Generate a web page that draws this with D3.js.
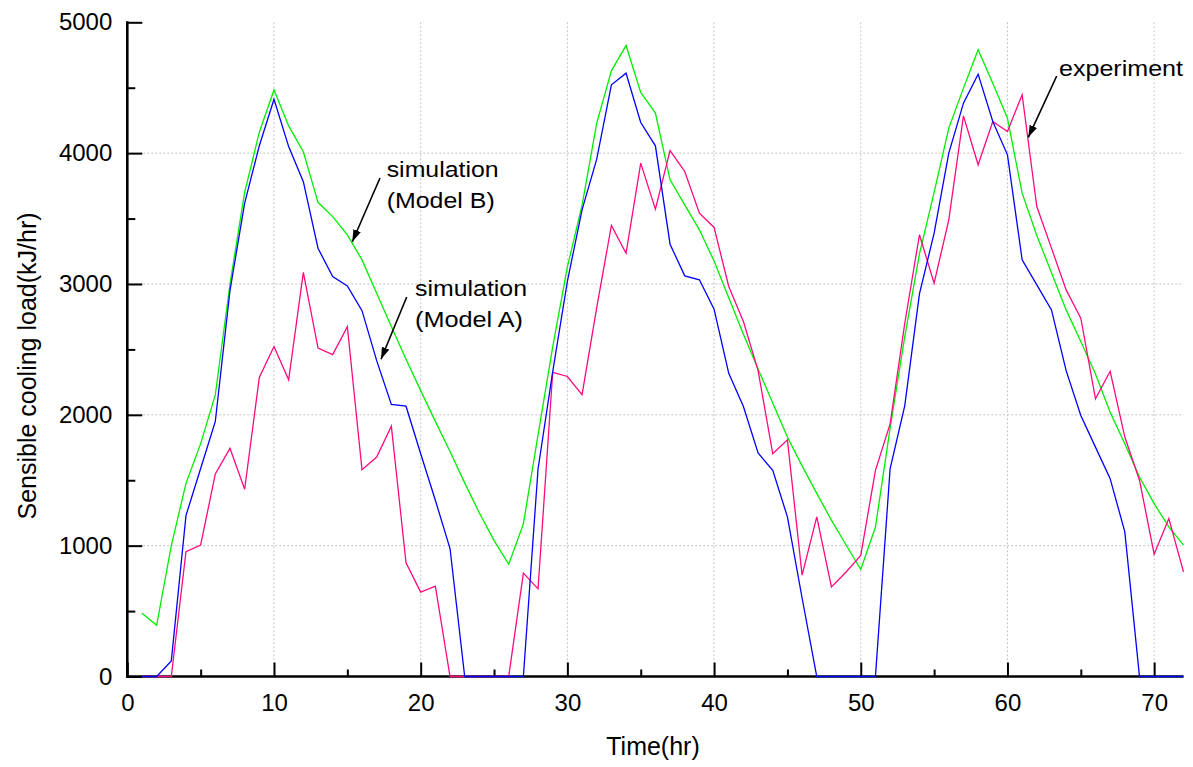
<!DOCTYPE html>
<html>
<head>
<meta charset="utf-8">
<script src="https://cdn.jsdelivr.net/npm/d3@7"></script>
<style>
  html, body { margin: 0; padding: 0; background: #fff; }
  svg { display: block; font-family: "Liberation Sans", Arial, sans-serif; }
</style>
</head>
<body>
<svg id="chart" width="1193" height="767"></svg>
<script>
// ---- data ----
const hours = d3.range(1, 73);
const modelB = [483, 391, 1000, 1476, 1780, 2152, 3000, 3700, 4160, 4483,
  4208, 4011, 3624, 3515, 3375, 3184, 2930, 2675, 2425, 2185,
  1950, 1720, 1480, 1250, 1040, 858, 1166, 1846, 2520, 3130,
  3600, 4229, 4629, 4823, 4464, 4306, 3796, 3605, 3414, 3175,
  2895, 2615, 2350, 2090, 1830, 1610, 1400, 1195, 1005, 818,
  1142, 1898, 2600, 3230, 3700, 4191, 4497, 4790, 4535, 4267,
  3694, 3371, 3085, 2802, 2560, 2312, 2020, 1779, 1525, 1321,
  1143, 1004];
const modelA = [0, 0, 119, 1230, 1590, 1950, 2950, 3618, 4057, 4412,
  4050, 3782, 3273, 3056, 2985, 2796, 2414, 2079, 2066, 1702,
  1347, 978, 0, 0, 0, 0, 0, 1586, 2330, 3020,
  3567, 3954, 4522, 4611, 4234, 4056, 3304, 3062, 3032, 2808,
  2317, 2063, 1708, 1575, 1220, 600, 0, 0, 0, 0,
  0, 1587, 2071, 2924, 3388, 4000, 4382, 4604, 4242, 3987,
  3185, 2993, 2802, 2338, 1995, 1753, 1512, 1105, 0, 0,
  0, 0];
const experiment = [0, 0, 0, 954, 1005, 1548, 1744, 1431, 2285, 2522,
  2267, 3089, 2510, 2460, 2674, 1580, 1677, 1913, 869, 645,
  691, 0, 0, 0, 0, 0, 790, 670, 2325, 2293,
  2154, 2820, 3447, 3235, 3924, 3572, 4020, 3860, 3541, 3432,
  2981, 2713, 2338, 1702, 1809, 775, 1220, 684, 799, 926,
  1575, 1931, 2700, 3376, 3006, 3490, 4285, 3911, 4242, 4166,
  4446, 3592, 3274, 2955, 2739, 2122, 2333, 1830, 1500, 935,
  1207, 800];
const xTicks = [0, 10, 20, 30, 40, 50, 60, 70];
const xMinorTicks = [5, 15, 25, 35, 45, 55, 65];
const yTicks = [0, 1000, 2000, 3000, 4000, 5000];
const yMinorTicks = [500, 1500, 2500, 3500, 4500];
const xGrid = [10, 20, 30, 40, 50, 60, 70];
const yGrid = [1000, 2000, 3000, 4000];
const xTitle = "Time(hr)";
const yTitle = "Sensible cooling load(kJ/hr)";
const annotations = [
  { lines: ["simulation", "(Model B)"], widths: [112, 108] },
  { lines: ["simulation", "(Model A)"], widths: [112, 108] },
  { lines: ["experiment"], widths: [124] }
];

(function () {
// ---- layout ----
const svg = d3.select("#chart");
const pL = 127.3, pR = 1183.5, pT = 22.3, pB = 676.5;
const x = d3.scaleLinear().domain([0, 72]).range([pL, pR]);
const y = d3.scaleLinear().domain([0, 5000]).range([pB, pT]);

// grid
const grid = svg.append("g").attr("stroke", "#c4c4c4").attr("stroke-width", 1)
  .attr("stroke-dasharray", "2,2");
grid.selectAll("line.v").data(xGrid).join("line").attr("class", "v")
  .attr("x1", d => x(d)).attr("x2", d => x(d)).attr("y1", pT).attr("y2", pB);
grid.selectAll("line.h").data(yGrid).join("line").attr("class", "h")
  .attr("x1", pL).attr("x2", pR).attr("y1", d => y(d)).attr("y2", d => y(d));

// axes
function styleAxis(g) {
  g.selectAll(".domain").attr("stroke", "#000").attr("stroke-width", 2.6);
  g.selectAll(".tick line").attr("stroke", "#000").attr("stroke-width", 2);
  g.selectAll(".tick text").attr("fill", "#000").attr("font-size", 24)
   .attr("font-family", "'Liberation Sans', Arial, sans-serif");
}
const gxMinor = svg.append("g").attr("transform", `translate(0,${pB})`)
  .call(d3.axisBottom(x).tickValues(xMinorTicks).tickSize(-7).tickSizeOuter(0).tickFormat(""));
styleAxis(gxMinor);
gxMinor.select(".domain").remove();
const gyMinor = svg.append("g").attr("transform", `translate(${pL},0)`)
  .call(d3.axisLeft(y).tickValues(yMinorTicks).tickSize(-8).tickSizeOuter(0).tickFormat(""));
styleAxis(gyMinor);
gyMinor.select(".domain").remove();

const gx = svg.append("g").attr("transform", `translate(0,${pB})`)
  .call(d3.axisBottom(x).tickValues(xTicks).tickSize(-14).tickSizeOuter(0).tickPadding(17).tickFormat(d3.format("d")));
styleAxis(gx);
gx.select(".domain").attr("d", `M${pL - 1.3},0H${pR}`);
const gy = svg.append("g").attr("transform", `translate(${pL},0)`)
  .call(d3.axisLeft(y).tickValues(yTicks).tickSize(-15).tickSizeOuter(0).tickPadding(15).tickFormat(d3.format("d")));
styleAxis(gy);
gy.select(".domain").attr("d", `M0,${pT - 1}V${pB + 1.3}`);

// axis titles
svg.append("text").attr("x", 653).attr("y", 755).attr("text-anchor", "middle")
  .attr("font-size", 25).attr("fill", "#000").text(xTitle);
svg.append("text").attr("transform", "translate(36,366) rotate(-90)")
  .attr("text-anchor", "middle").attr("font-size", 25).attr("fill", "#000").text(yTitle);

// lines
const line = d3.line().x((d, i) => x(hours[i])).y(d => y(d));
const series = [
  { values: modelB, color: "#00ee00" },
  { values: experiment, color: "#ff0a80" },
  { values: modelA, color: "#0000ff" }
];
svg.append("g").selectAll("path").data(series).join("path")
  .attr("d", d => line(d.values)).attr("fill", "none")
  .attr("stroke", d => d.color).attr("stroke-width", 1.3).attr("stroke-linejoin", "miter");

// annotations
const annPos = [
  { x: 386.7, y: 177, dy: 30.5, from: [380, 178], to: [352.3, 241.7] },
  { x: 415, y: 296, dy: 31, from: [406.7, 297], to: [381, 359.3] },
  { x: 1059, y: 75.5, dy: 0, from: [1056.7, 76], to: [1028.3, 137.3] }
];
svg.append("defs").append("marker").attr("id", "arr")
  .attr("viewBox", "0 0 12 8").attr("refX", 12).attr("refY", 4)
  .attr("markerWidth", 12).attr("markerHeight", 8).attr("markerUnits", "userSpaceOnUse")
  .attr("orient", "auto")
  .append("path").attr("d", "M0,0L12,4L0,8Z").attr("fill", "#000");
annotations.forEach((a, k) => {
  const p = annPos[k];
  a.lines.forEach((t, j) => {
    svg.append("text").attr("x", p.x).attr("y", p.y + j * p.dy)
      .attr("font-size", 22).attr("fill", "#000")
      .attr("textLength", a.widths[j]).attr("lengthAdjust", "spacingAndGlyphs")
      .text(t);
  });
  svg.append("line").attr("x1", p.from[0]).attr("y1", p.from[1])
    .attr("x2", p.to[0]).attr("y2", p.to[1])
    .attr("stroke", "#000").attr("stroke-width", 1.6).attr("marker-end", "url(#arr)");
});
})();
</script>
</body>
</html>
